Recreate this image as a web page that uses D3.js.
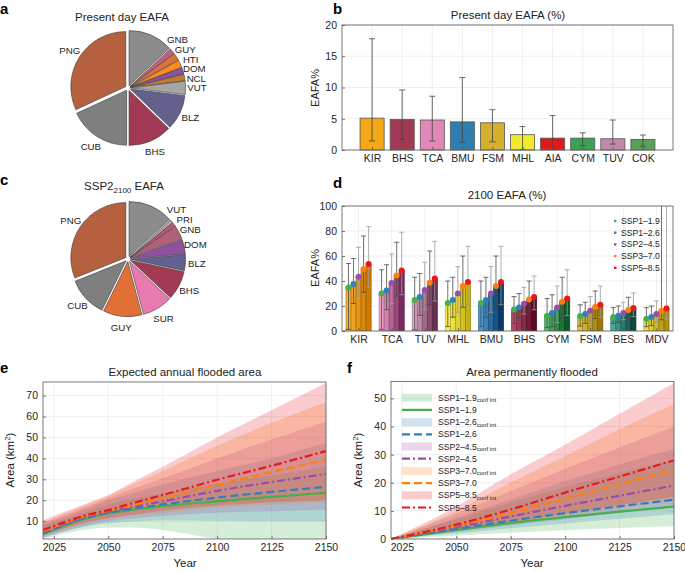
<!DOCTYPE html>
<html><head><meta charset="utf-8">
<script src="https://cdn.jsdelivr.net/npm/d3@7/dist/d3.min.js"></script>
<style>
body{margin:0;background:#fff;}
svg text{font-family:"Liberation Sans",Arial,Helvetica,sans-serif;fill:#222;}
</style></head><body>
<script>
// ---------------- DATA ----------------
const pieALabels = ["","GNB","GUY","HTI","DOM","NCL","VUT","BLZ","BHS","CUB","PNG"];
const pieAValues = [13.1,1.7,2.2,2.2,1.9,1.9,3.9,10.3,12.8,18.1,31.9];
const pieAColors = ["#8c8c8c","#c0607e","#e0703a","#ff8c1a","#9050a0","#c07a2e","#a6a6a6","#64608c","#a33a55","#7f7f7f","#b5603f"];

const pieCLabels = ["","VUT","PRI","GNB","DOM","BLZ","BHS","SUR","GUY","CUB","PNG"];
const pieCValues = [13.1,1.1,1.1,4.2,4.2,4.7,8.6,8.9,11.4,11.7,31.1];
const pieCColors = ["#8c8c8c","#a6a6a6","#d0506e","#b0607a","#9050a0","#626090","#a33a55","#e87ab0","#e07035","#7f7f7f","#b5603f"];

const bCats = ["KIR","BHS","TCA","BMU","FSM","MHL","AIA","CYM","TUV","COK"];
const bVals = [5.1,4.9,4.8,4.5,4.35,2.45,1.9,1.9,1.8,1.7];
const bLow  = [1.45,1.7,1.45,1.25,1.3,0.1,0.1,0.7,0.95,0.6];
const bHigh = [17.8,9.6,8.6,11.6,6.45,3.75,5.5,2.75,4.8,2.4];
const bColors = ["#f5a818","#a33a55","#e088b8","#2e7fb0","#d4b02e","#f2ea30","#e01a1a","#3ea055","#c08aa8","#5a9f5a"];
const bYTicks = [0,5,10,15,20];

const dCats = ["KIR","TCA","TUV","MHL","BMU","BHS","CYM","FSM","BES","MDV"];
const d119 = [34.9,30.1,24.8,22.4,22.4,17.3,12.3,12.0,11.2,9.9];
const d126 = [37.6,32.5,27.2,24.8,24.8,18.9,14.4,13.6,12.3,11.2];
const d245 = [43.5,38.4,32.8,30.1,30.1,21.9,18.9,16.3,14.4,13.6];
const d370 = [49.6,44.5,38.7,36.0,36.0,25.3,23.5,19.2,16.8,16.3];
const d585 = [53.6,48.5,42.1,39.2,39.2,27.2,26.1,21.1,18.4,18.1];
const dLo119 = [1.3,1.3,1,3.5,3.5,6,2.7,4,6,3.5];
const dLo126 = [22,17,12.5,11,11,10,3.5,6,7,4.3];
const dLo245 = [27,22,17,15,15,13.6,6.7,8,9,7];
const dLo370 = [31,28,21,19,19,16,10,10,10.4,9];
const dLo585 = [35,29,24,21,21,17,12.3,10.7,11.5,9.4];
const dHi119 = [54,49,43,40,40,27.5,26,21,18.7,18.7];
const dHi126 = [58,53,46,43,43,30,29,23,20,20];
const dHi245 = [67,61.6,55,51.5,51.5,35,36,27.5,23,24];
const dHi370 = [76,71,64,60,60,40,43,32,27,150];
const dHi585 = [83.5,79,71.7,67.7,67.7,44,49,36,30.4,200];
const dShadeLight = ["#f8b030","#f0a0c8","#d8a8c0","#f8f050","#4a9ad0","#b04a65","#5ab870","#e0c040","#4aa898","#f0dc40"];
const dShadeDark  = ["#d07a00","#7a2a60","#6a3050","#c8b010","#083a6a","#5a0a28","#0a5a28","#9a7a08","#0a4a40","#b09010"];
const dYTicks = [0,20,40,60,80,100];

const scenNames = ["SSP1–1.9","SSP1–2.6","SSP2–4.5","SSP3–7.0","SSP5–8.5"];
const scenColors = ["#46b04a","#2f7fc1","#9a4ea8","#ff7f0e","#e8191c"];
const scenDash = [null,"8,4","8,3,2,3","8,4","8,3,2,3"];

const eYears = [2020,2040,2050,2060,2075,2100,2125,2150];
const eMean119 = [3.8,11.3,13.7,15.3,17.2,19.5,21.6,23.6];
const eLo119 = [1.5,6,7,7,5.8,1.5,-1,-3];
const eHi119 = [8,14.5,18,20.5,23.5,28,32,36];
const eMean126 = [4.2,11.7,14,15.8,18,21.3,24,26.4];
const eLo126 = [2,7.5,9,9.8,10.5,10.2,10,10];
const eHi126 = [8.5,16,20,23,27.5,34,40,47.5];
const eMean245 = [4.7,12.1,14.5,16.6,19.5,24.5,28.7,32.6];
const eLo245 = [2.5,8,10,11.2,12.5,14,14.8,15.3];
const eHi245 = [9,17,21,25,30.5,40,49,57.5];
const eMean370 = [5.2,12.5,15,17.4,21,27.3,33.5,39.2];
const eLo370 = [3,9,11,12.5,14,16.5,18,19];
const eHi370 = [9.5,18,22,27,34,46,57,67];
const eMean585 = [5.8,12.9,15.3,18.3,22.5,29.8,36.5,43.5];
const eLo585 = [3.3,9.5,11.5,13,15,17.5,19,20];
const eHi585 = [10.5,18.5,22.5,28,36,50,63,76];
const eXTicks = [2025,2050,2075,2100,2125,2150];
const eYTicks = [10,20,30,40,50,60,70];

const fYears = [2020,2050,2075,2100,2125,2150];
const fMean119 = [0,3.2,5.7,7.8,9.7,11.5];
const fLo119 = [0,1.2,2.2,3.1,3.9,4.5];
const fHi119 = [0,7,13,18.5,23.5,28];
const fMean126 = [0,3.6,6.5,9.2,11.6,14];
const fLo126 = [0,2,3.8,5.5,7.2,8.8];
const fHi126 = [0,7.5,14,20.5,26.5,32];
const fMean245 = [0,4.2,8,11.8,15.4,19];
const fLo245 = [0,2.5,4.8,7,9.3,11.5];
const fHi245 = [0,9,17,25,32.5,40];
const fMean370 = [0,4.8,9.2,14.3,19.5,24.6];
const fLo370 = [0,2.8,5.5,8.3,11,13.5];
const fHi370 = [0,10,20,29.5,39,48];
const fMean585 = [0,5.1,10.5,16.5,22.2,28];
const fLo585 = [0,3,6,9,12,15];
const fHi585 = [0,11.5,23,33.5,44.5,55.5];
const fYTicks = [0,10,20,30,40,50];

// ---------------- DRAWING ----------------
const svg = d3.select("body").append("svg").attr("width",685).attr("height",571).style("display","block");
const defs = svg.append("defs");
function clip(id,x,y,w,h){defs.append("clipPath").attr("id",id).append("rect").attr("x",x).attr("y",y).attr("width",w).attr("height",h);}

function label(x,y,str,size,opts={}){
  const t = svg.append("text").attr("x",x).attr("y",y).style("font-size",size+"px")
    .attr("text-anchor",opts.anchor||"middle").text(str);
  if(opts.bold) t.style("font-weight","bold");
  if(opts.rotate) t.attr("transform",`rotate(-90,${x},${y})`);
  return t;
}
function panelLetter(x,y,l){label(x,y,l,15,{anchor:"start",bold:true}).style("fill","#000");}

function styleAxis(sel){
  sel.select(".domain").remove();
  sel.selectAll(".tick line").attr("stroke","#555").attr("stroke-width",0.8);
  sel.selectAll(".tick text").style("fill","#262626").style("font-size","10.5px");
}

function panel(x,y,xTicks,yTicks,xFmt,yFmt,xGrid,yGrid){
  const g = svg.append("g");
  const [xa,xb]=x.range(); const [yb,ya]=y.range();
  const grid = g.append("g");
  grid.append("g").selectAll("line").data(xGrid).join("line")
    .attr("x1",d=>x(d)).attr("x2",d=>x(d)).attr("y1",ya).attr("y2",yb)
    .attr("stroke","#ebebeb").attr("stroke-width",0.8);
  grid.append("g").selectAll("line").data(yGrid).join("line")
    .attr("y1",d=>y(d)).attr("y2",d=>y(d)).attr("x1",xa).attr("x2",xb)
    .attr("stroke","#ebebeb").attr("stroke-width",0.8);
  const plot = g.append("g");
  const axes = g.append("g");
  axes.append("rect").attr("x",xa).attr("y",ya).attr("width",xb-xa).attr("height",yb-ya)
    .attr("fill","none").attr("stroke","#6b6b6b").attr("stroke-width",0.9);
  const ax = axes.append("g").attr("transform",`translate(0,${yb})`)
    .call(d3.axisBottom(x).tickValues(xTicks).tickFormat(xFmt).tickSizeInner(-3).tickSizeOuter(0).tickPadding(5));
  const ay = axes.append("g").attr("transform",`translate(${xa},0)`)
    .call(d3.axisLeft(y).tickValues(yTicks).tickFormat(yFmt).tickSizeInner(-3).tickSizeOuter(0).tickPadding(5));
  styleAxis(ax); styleAxis(ay);
  return {g,plot,axes};
}

// ---- pies ----
function drawPie(cx,cy,r,labels,values,colors){
  const arcs = d3.pie().sort(null).value(d=>d)(values);
  const arc = d3.arc().innerRadius(0).outerRadius(r);
  const g = svg.append("g").attr("transform",`translate(${cx},${cy})`);
  const ex = 2.6;
  arcs.forEach((a,i)=>{
    const m=(a.startAngle+a.endAngle)/2;
    g.append("path").attr("d",arc(a))
      .attr("transform",`translate(${Math.sin(m)*ex},${-Math.cos(m)*ex})`)
      .attr("fill",colors[i]).attr("stroke","#3a3a3a").attr("stroke-width",0.6);
  });
  const lr=r+14;
  const labs = arcs.map((a,i)=>{
    const m=(a.startAngle+a.endAngle)/2;
    return {t:labels[i], x:Math.sin(m)*lr, y:-Math.cos(m)*lr, s:Math.sin(m)};
  }).filter(d=>d.t);
  // keep stacked labels on the right side from colliding
  const right = labs.filter(d=>d.s>0.3).sort((a,b)=>a.y-b.y);
  const gap = 9.6;
  for(let it=0; it<60; it++){
    for(let k=1;k<right.length;k++){
      const o = gap-(right[k].y-right[k-1].y);
      if(o>0){ right[k].y+=o/2; right[k-1].y-=o/2; }
    }
  }
  right.forEach(d=>{ const yy=Math.max(-lr,Math.min(lr,d.y)); d.x=Math.max(d.x*0.6,Math.sqrt(lr*lr-yy*yy)); });
  labs.forEach(d=>{
    g.append("text").attr("x",d.x).attr("y",d.y)
      .attr("text-anchor","middle").attr("dominant-baseline","central")
      .style("font-size","9.7px").text(d.t);
  });
}
panelLetter(0,14,"a");
label(122,21,"Present day EAFA",11.5);
drawPie(128,88,55,pieALabels,pieAValues,pieAColors);

panelLetter(0,185,"c");
const tc = label(124,190,"SSP2",11.5);
tc.append("tspan").attr("dy",3).style("font-size","8px").text("2100");
tc.append("tspan").attr("dy",-3).text(" EAFA");
drawPie(128,259,55,pieCLabels,pieCValues,pieCColors);

// ---- panel b ----
panelLetter(333,14,"b");
label(508,19,"Present day EAFA (%)",11.5);
const bx = d3.scaleLinear().domain([0,11]).range([342,673]);
const by = d3.scaleLinear().domain([0,20]).range([150,25]);
const idxB = d3.range(1,bCats.length+1);
const pb = panel(bx,by,idxB,bYTicks,i=>bCats[i-1],d=>d,idxB,bYTicks);
const bw = (bx(1)-bx(0))*0.8;
pb.plot.selectAll("rect").data(bVals).join("rect")
  .attr("x",(d,i)=>bx(i+1)-bw/2).attr("width",bw)
  .attr("y",d=>by(d)).attr("height",d=>by(0)-by(d))
  .attr("fill",(d,i)=>bColors[i]).attr("stroke","#555").attr("stroke-width",0.8);
const eb = pb.plot.append("g").attr("stroke","#444").attr("stroke-width",0.8);
bVals.forEach((v,i)=>{
  const cx=bx(i+1);
  eb.append("line").attr("x1",cx).attr("x2",cx).attr("y1",by(bLow[i])).attr("y2",by(bHigh[i]));
  eb.append("line").attr("x1",cx-3).attr("x2",cx+3).attr("y1",by(bLow[i])).attr("y2",by(bLow[i]));
  eb.append("line").attr("x1",cx-3).attr("x2",cx+3).attr("y1",by(bHigh[i])).attr("y2",by(bHigh[i]));
});
label(319,88,"EAFA%",11,{rotate:true});

// ---- panel d ----
panelLetter(333,188,"d");
label(507,199,"2100 EAFA (%)",11.5);
const dx = d3.scaleLinear().domain([0.5,10.5]).range([342,673]);
const dy = d3.scaleLinear().domain([0,100]).range([331,206]);
const idxD = d3.range(1,dCats.length+1);
const pd = panel(dx,dy,idxD,dYTicks,i=>dCats[i-1],d=>d,idxD,dYTicks);
clip("clipD",342,206,331,125);
pd.plot.attr("clip-path","url(#clipD)");
const dSeries=[d119,d126,d245,d370,d585];
const dLos=[dLo119,dLo126,dLo245,dLo370,dLo585];
const dHis=[dHi119,dHi126,dHi245,dHi370,dHi585];
const grpW=0.76, sub=grpW/5;
dCats.forEach((c,i)=>{
  const shade = d3.interpolateRgb(dShadeLight[i],dShadeDark[i]);
  dSeries.forEach((s,j)=>{
    const cx = dx(i+1+(j-2)*sub), w=dx(sub)-dx(0);
    const col = shade(j/4);
    pd.plot.append("rect").attr("x",cx-w/2).attr("width",w)
      .attr("y",dy(s[i])).attr("height",dy(0)-dy(s[i]))
      .attr("fill",col).attr("stroke",d3.color(col).darker(0.9)).attr("stroke-width",0.7);
  });
});
dCats.forEach((c,i)=>{
  dSeries.forEach((s,j)=>{
    const cx = dx(i+1+(j-2)*sub);
    const col = j===4||j===2 ? "#9a9a9a" : "#4a4a4a";
    const g = pd.plot.append("g").attr("stroke",col).attr("stroke-width",0.8);
    g.append("line").attr("x1",cx).attr("x2",cx).attr("y1",dy(dLos[j][i])).attr("y2",dy(dHis[j][i]));
    g.append("line").attr("x1",cx-2.5).attr("x2",cx+2.5).attr("y1",dy(dLos[j][i])).attr("y2",dy(dLos[j][i]));
    g.append("line").attr("x1",cx-2.5).attr("x2",cx+2.5).attr("y1",dy(dHis[j][i])).attr("y2",dy(dHis[j][i]));
  });
});
dCats.forEach((c,i)=>{
  dSeries.forEach((s,j)=>{
    pd.plot.append("circle").attr("cx",dx(i+1+(j-2)*sub)).attr("cy",dy(s[i])).attr("r",3)
      .attr("fill",scenColors[j]);
  });
});
label(319,268,"EAFA%",11,{rotate:true});
const lgd = svg.append("g");
scenNames.forEach((n,j)=>{
  const yy = 221+j*11.7;
  lgd.append("rect").attr("x",614).attr("y",yy-1.2).attr("width",2.4).attr("height",2.4).attr("fill",scenColors[j]);
  lgd.append("text").attr("x",621).attr("y",yy).attr("dominant-baseline","central").style("font-size","8.6px").text(n);
});

// ---- line panels ----
function linePanel(x,y,years,means,los,his,clipId){
  const [xa,xb]=x.range(); const [yb,ya]=y.range();
  clip(clipId,xa,ya,xb-xa,yb-ya);
  return (p)=>{
    p.plot.attr("clip-path",`url(#${clipId})`);
    los.forEach((lo,j)=>{
      const area = d3.area().x((d,i)=>x(years[i])).y0((d,i)=>y(lo[i])).y1((d,i)=>y(his[j][i])).curve(d3.curveMonotoneX);
      p.plot.append("path").attr("d",area(years)).attr("fill",scenColors[j]).attr("fill-opacity",0.22);
    });
    means.forEach((m,j)=>{
      const line = d3.line().x((d,i)=>x(years[i])).y(d=>y(d)).curve(d3.curveMonotoneX);
      p.plot.append("path").attr("d",line(m)).attr("fill","none").attr("stroke",scenColors[j])
        .attr("stroke-width",2.2).attr("stroke-dasharray",scenDash[j]);
    });
  };
}
function areaLabel(x,y){
  const t = label(x,y,"Area (km",11.5,{rotate:true});
  t.append("tspan").attr("dy",-4).style("font-size","8px").text("2");
  t.append("tspan").attr("dy",4).text(")");
}

panelLetter(0,373,"e");
label(185,376,"Expected annual flooded area",11.5);
const ex = d3.scaleLinear().domain([2020,2150]).range([43,326]);
const ey = d3.scaleLinear().domain([1.5,76.5]).range([539,382]);
const pe = panel(ex,ey,eXTicks,eYTicks,d=>d,d=>d,eXTicks,eYTicks);
linePanel(ex,ey,eYears,[eMean119,eMean126,eMean245,eMean370,eMean585],
  [eLo119,eLo126,eLo245,eLo370,eLo585],[eHi119,eHi126,eHi245,eHi370,eHi585],"clipE")(pe);
areaLabel(14,460);
label(185,567,"Year",11.5);

panelLetter(347,373,"f");
label(532,376,"Area permanently flooded",11.5);
const fx = d3.scaleLinear().domain([2020,2150]).range([391,674]);
const fy = d3.scaleLinear().domain([0,56]).range([539,381.5]);
const pf = panel(fx,fy,eXTicks,fYTicks,d=>d,d=>d,eXTicks,fYTicks);
linePanel(fx,fy,fYears,[fMean119,fMean126,fMean245,fMean370,fMean585],
  [fLo119,fLo126,fLo245,fLo370,fLo585],[fHi119,fHi126,fHi245,fHi370,fHi585],"clipF")(pf);
areaLabel(362,460);
label(532,567,"Year",11.5);

const lf = svg.append("g");
scenNames.forEach((n,j)=>{
  const y1 = 397.7 + (2*j)*12.2, y2 = 397.7 + (2*j+1)*12.2;
  lf.append("rect").attr("x",402).attr("y",y1-4).attr("width",30).attr("height",8)
    .attr("fill",scenColors[j]).attr("fill-opacity",0.22);
  const t = lf.append("text").attr("x",438).attr("y",y1).attr("dominant-baseline","central").style("font-size","8.6px").text(n);
  t.append("tspan").attr("dy",2.5).style("font-size","6px").text("conf int");
  lf.append("line").attr("x1",402).attr("x2",432).attr("y1",y2).attr("y2",y2)
    .attr("stroke",scenColors[j]).attr("stroke-width",2.2).attr("stroke-dasharray",scenDash[j]);
  lf.append("text").attr("x",438).attr("y",y2).attr("dominant-baseline","central").style("font-size","8.6px").text(n);
});
</script>
</body></html>
